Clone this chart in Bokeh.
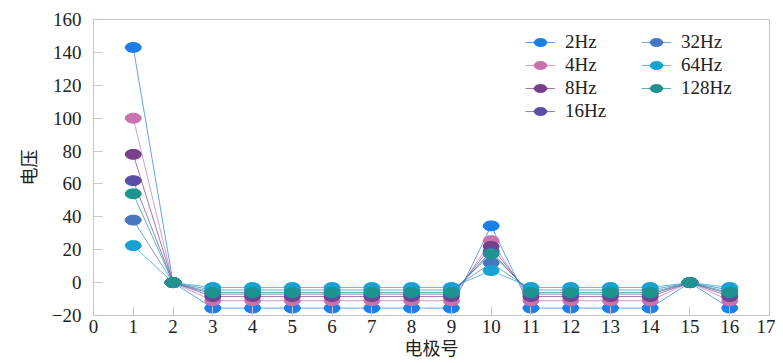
from bokeh.plotting import figure
from bokeh.models import Legend, LegendItem, FixedTicker, ColumnDataSource
from bokeh.embed import file_html
from bokeh.resources import INLINE

electrodes = list(range(1, 17))
labels = ["2Hz", "4Hz", "8Hz", "16Hz", "32Hz", "64Hz", "128Hz"]
colors = ["#1a7fec", "#c872b0", "#7a3f8a", "#5a4ea8", "#4677c0", "#18a2d4", "#20928f"]
peak1 = [143, 100, 78, 62, 38, 22.5, 54]
peak10 = [34.5, 25.5, 22, 19, 12, 7.3, 17.5]
plateau = [-15.5, -11, -8.5, -7, -4.5, -3, -6]

p = figure(width=775, height=362, output_backend="svg", toolbar_location=None,
           x_range=(0, 17), y_range=(-20, 160),
           min_border_left=93, min_border_top=19, min_border_right=6, min_border_bottom=30)
p.background_fill_color = "white"
p.outline_line_color = "#c8c8c8"
p.xgrid.visible = False
p.ygrid.visible = False

items = []
for lab, col, a, b, c in zip(labels, colors, peak1, peak10, plateau):
    ys = []
    for e in electrodes:
        if e == 1:
            ys.append(a)
        elif e in (2, 15):
            ys.append(0)
        elif e == 10:
            ys.append(b)
        else:
            ys.append(c)
    src = ColumnDataSource(dict(x=electrodes, y=ys))
    r1 = p.line("x", "y", source=src, line_color=col, line_width=1, line_alpha=0.7)
    r2 = p.ellipse("x", "y", width=16, height=10, width_units="screen", height_units="screen",
                   source=src, fill_color=col, line_color=col)
    items.append(LegendItem(label=lab, renderers=[r1, r2]))

legend = Legend(items=items, orientation="vertical", nrows=4,
                location=(432, 193), label_text_font="Liberation Serif",
                label_text_font_size="19px", label_text_color="#222222",
                glyph_width=30, glyph_height=16, spacing=1, padding=0,
                label_standoff=10, border_line_color=None, background_fill_alpha=0,
                label_height=20, label_width=75)
p.add_layout(legend, "center")

for ax in (p.xaxis[0], p.yaxis[0]):
    ax.axis_line_color = "#c8c8c8"
    ax.major_tick_line_color = "#c8c8c8"
    ax.major_tick_in = 9
    ax.major_tick_out = 0
    ax.minor_tick_line_color = None
    ax.major_label_text_font = "Liberation Serif"
    ax.major_label_text_font_size = "19px"
    ax.major_label_text_color = "#222222"
    ax.axis_label_text_font = "Noto Sans CJK SC"
    ax.axis_label_text_font_size = "18px"
    ax.axis_label_text_font_style = "normal"
    ax.axis_label_text_color = "#222222"

p.xaxis.ticker = FixedTicker(ticks=list(range(0, 18)))
p.yaxis.ticker = FixedTicker(ticks=list(range(-20, 161, 20)))
p.xaxis.axis_label = "电极号"
p.yaxis.axis_label = "电压"
p.xaxis.major_label_standoff = 4
p.xaxis.axis_label_standoff = -2
p.yaxis.major_label_standoff = 12
p.yaxis.axis_label_standoff = 8

open("out.html", "w").write(file_html(p, INLINE))
